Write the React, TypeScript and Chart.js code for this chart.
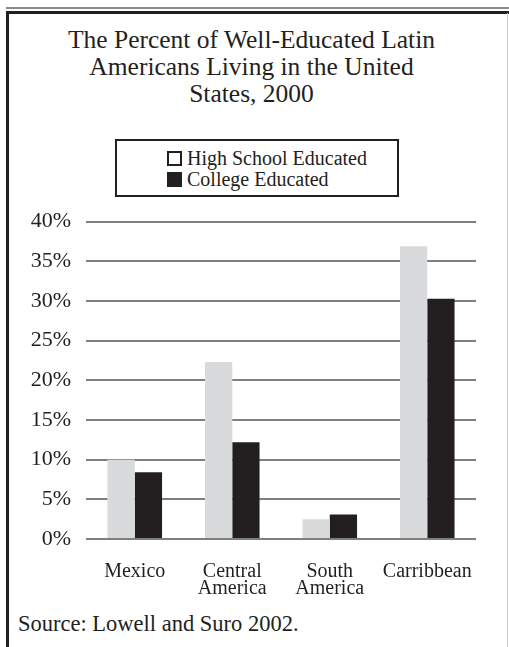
import React, { useEffect, useRef } from "react";
import { Chart, registerables } from "chart.js";

Chart.register(...registerables);

const TITLE_LINES = ["The Percent of Well-Educated Latin", "Americans Living in the United", "States, 2000"];
const CATEGORIES: (string | string[])[] = ["Mexico", ["Central", "America"], ["South", "America"], "Carribbean"];
const SERIES_NAMES = ["High School Educated", "College Educated"];
const HIGH_SCHOOL = [10.0, 22.3, 2.5, 36.9];
const COLLEGE = [8.4, 12.2, 3.1, 30.3];
const SERIES_COLORS = ["#d9dadb", "#231f20"];
const Y_MIN = 0;
const Y_MAX = 40;
const Y_STEP = 5;
const SOURCE = "Source: Lowell and Suro 2002.";

const FONT = '"Liberation Serif", "Times New Roman", serif';
const INK = "#231f20";

export default function App() {
  const canvasRef = useRef<HTMLCanvasElement | null>(null);

  useEffect(() => {
    if (!canvasRef.current) return;
    Chart.defaults.font.family = FONT;
    const chart = new Chart(canvasRef.current, {
      type: "bar",
      data: {
        labels: CATEGORIES,
        datasets: [
          { label: SERIES_NAMES[0], data: HIGH_SCHOOL, backgroundColor: SERIES_COLORS[0], borderWidth: 0 },
          { label: SERIES_NAMES[1], data: COLLEGE, backgroundColor: SERIES_COLORS[1], borderWidth: 0 },
        ],
      },
      options: {
        animation: false,
        responsive: false,
        maintainAspectRatio: false,
        devicePixelRatio: 1,
        layout: { padding: { top: 21.7, right: 33, left: 0, bottom: 0 } },
        plugins: { legend: { display: false }, tooltip: { enabled: false }, title: { display: false } },
        datasets: { bar: { categoryPercentage: 0.56, barPercentage: 1 } },
        scales: {
          x: {
            grid: { display: false },
            border: { display: false },
            ticks: {
              color: INK,
              font: { size: 20, family: FONT, lineHeight: 0.82 },
              padding: 17,
              maxRotation: 0,
              autoSkip: false,
            },
            afterFit: (axis: any) => {
              axis.height = 61;
              axis.paddingLeft = 0;
              axis.paddingRight = 0;
            },
          },
          y: {
            min: Y_MIN,
            max: Y_MAX,
            grid: { color: "#7f7f7f", lineWidth: 2, drawTicks: false },
            border: { display: false },
            ticks: {
              stepSize: Y_STEP,
              color: INK,
              font: { size: 22, family: FONT },
              padding: 15,
              callback: (v: any) => v + "%",
            },
            afterFit: (axis: any) => {
              axis.width = 86;
              axis.paddingTop = 0;
              axis.paddingBottom = 0;
            },
          },
        },
      },
    });
    return () => chart.destroy();
  }, []);

  return (
    <div
      style={{
        position: "absolute",
        left: 0,
        top: 0,
        width: 509,
        height: 647,
        background: "#ffffff",
        overflow: "hidden",
        fontFamily: FONT,
        color: INK,
      }}
    >
      {/* frame lines */}
      <div style={{ position: "absolute", left: 6, top: 7, width: 503, height: 1.5, background: "#8a8a8a" }} />
      <div style={{ position: "absolute", left: 6, top: 11, width: 503, height: 2.5, background: INK }} />
      <div style={{ position: "absolute", left: 6, top: 11, width: 2.5, height: 636, background: INK }} />
      <div style={{ position: "absolute", left: 507, top: 13, width: 1, height: 634, background: "#d0d0d0" }} />

      {/* title */}
      <div
        style={{
          position: "absolute",
          left: 0,
          top: 26,
          width: 503,
          textAlign: "center",
          fontSize: 25.5,
          lineHeight: "27px",
        }}
      >
        {TITLE_LINES.map((t, i) => (
          <div key={i}>{t}</div>
        ))}
      </div>

      {/* legend */}
      <div
        style={{
          position: "absolute",
          left: 115,
          top: 139,
          width: 284,
          height: 58,
          boxSizing: "border-box",
          border: "2px solid " + INK,
        }}
      >
        {SERIES_NAMES.map((name, i) => (
          <div
            key={i}
            style={{
              position: "absolute",
              left: 50,
              top: i === 0 ? 6 : 27,
              height: 22,
              display: "flex",
              alignItems: "center",
              fontSize: 20,
              whiteSpace: "nowrap",
            }}
          >
            <span
              style={{
                display: "inline-block",
                width: 15,
                height: 15,
                boxSizing: "border-box",
                background: i === 0 ? "#ffffff" : SERIES_COLORS[1],
                border: "2px solid " + INK,
                marginRight: 5,
              }}
            />
            <span>{name}</span>
          </div>
        ))}
      </div>

      {/* chart */}
      <canvas
        ref={canvasRef}
        width={509}
        height={400}
        style={{ position: "absolute", left: 0, top: 200, width: 509, height: 400 }}
      />

      {/* source */}
      <div
        style={{
          position: "absolute",
          left: 18,
          top: 611,
          fontSize: 22.5,
          lineHeight: "26px",
          whiteSpace: "nowrap",
        }}
      >
        {SOURCE}
      </div>
    </div>
  );
}
